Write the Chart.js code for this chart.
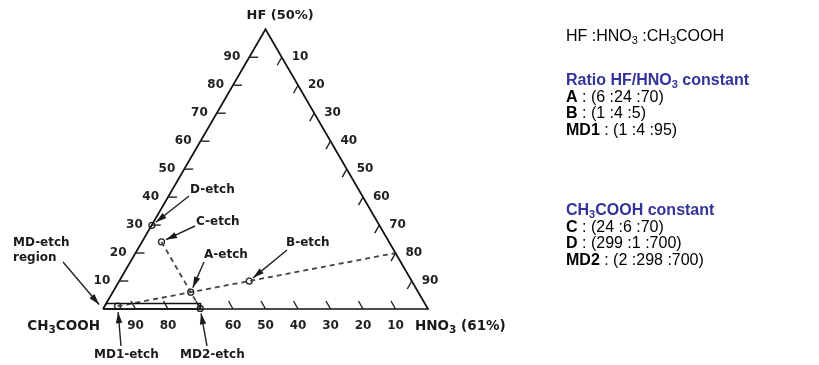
<!DOCTYPE html>
<html>
<head>
<meta charset="utf-8">
<script src="https://cdn.jsdelivr.net/npm/chart.js@4.4.1/dist/chart.umd.min.js"></script>
<style>
    body { margin: 0; background: #fff; }
    #wrap { position: relative; width: 819px; height: 365px; }
    #grafico { position: absolute; left: 0; top: 0; }
    .bloco { position: absolute; left: 566px; font-family: Arial, "Liberation Sans", sans-serif; font-size: 16px; line-height: 16.6px; color: #000; white-space: nowrap; }
    .titulo { color: #333399; font-weight: bold; }
    sub { font-size: 11px; vertical-align: -3px; line-height: 0; }
</style>
</head>
<body>
<div id="wrap">
    <canvas id="grafico" width="819" height="365"></canvas>
    <div class="bloco" style="top:28px">HF :HNO<sub>3</sub> :CH<sub>3</sub>COOH</div>
    <div class="bloco" style="top:72px" id="grupo-razao"></div>
    <div class="bloco" style="top:202px" id="grupo-acido"></div>
</div>
<script>
// dados do diagrama ternário (partes HF : HNO3 : CH3COOH)
const nomes = ['A', 'B', 'MD1', 'C', 'D', 'MD2'];
const partesHF = [6, 1, 1, 24, 299, 2];
const partesHNO3 = [24, 4, 4, 6, 1, 298];
const partesAcido = [70, 5, 95, 70, 700, 700];
const marcas = [10, 20, 30, 40, 50, 60, 70, 80, 90];
const rotulosBase = [90, 80, 60, 50, 40, 30, 20, 10];
const titulosGrupos = ['Ratio HF/HNO<sub>3</sub> constant', 'CH<sub>3</sub>COOH constant'];

function ternario(hf, hno3, acido) {
    const s = hf + hno3 + acido;
    const h = hf / s, n = hno3 / s;
    return { x: n + h / 2, y: h * Math.sqrt(3) / 2 };
}

function pontoNome(nome) {
    const i = nomes.indexOf(nome);
    return ternario(partesHF[i], partesHNO3[i], partesAcido[i]);
}

// legenda à direita
function montarGrupo(id, titulo, lista) {
    let html = `<div class="titulo">${titulo}</div>`;
    lista.forEach(nome => {
        const i = nomes.indexOf(nome);
        html += `<div><b>${nome}</b> : (${partesHF[i]} :${partesHNO3[i]} :${partesAcido[i]})</div>`;
    });
    document.getElementById(id).innerHTML = html;
}
montarGrupo('grupo-razao', titulosGrupos[0], ['A', 'B', 'MD1']);
montarGrupo('grupo-acido', titulosGrupos[1], ['C', 'D', 'MD2']);

const vL = ternario(0, 0, 1);
const vR = ternario(0, 1, 0);
const vT = ternario(1, 0, 0);

// anotações (posições em pixels)
const notas = [
    { linhas: ['D-etch'], alvo: pontoNome('D'), tx: 190, ty: 190, ax: 189, ay: 196, folga: 5 },
    { linhas: ['C-etch'], alvo: pontoNome('C'), tx: 196, ty: 222, ax: 195, ay: 226, folga: 5 },
    { linhas: ['A-etch'], alvo: pontoNome('A'), tx: 204, ty: 255, ax: 204, ay: 262, folga: 5 },
    { linhas: ['B-etch'], alvo: pontoNome('B'), tx: 286, ty: 243, ax: 287, ay: 250, folga: 5 },
    { linhas: ['MD-etch', 'region'], alvo: vL, tx: 13, ty: 243, ax: 63, ay: 262, folga: 6 },
    { linhas: ['MD1-etch'], alvo: pontoNome('MD1'), tx: 94, ty: 355, ax: 121, ay: 346, folga: 6 },
    { linhas: ['MD2-etch'], alvo: pontoNome('MD2'), tx: 180, ty: 355, ax: 207, ay: 346, folga: 5 }
];

function linha(ctx, x1, y1, x2, y2) {
    ctx.beginPath();
    ctx.moveTo(x1, y1);
    ctx.lineTo(x2, y2);
    ctx.stroke();
}

function seta(ctx, x1, y1, x2, y2, folga) {
    const dx = x2 - x1, dy = y2 - y1;
    const len = Math.hypot(dx, dy);
    const ux = dx / len, uy = dy / len;
    const px = x2 - ux * folga, py = y2 - uy * folga;
    linha(ctx, x1, y1, px, py);
    const bx = px - ux * 11, by = py - uy * 11;
    ctx.beginPath();
    ctx.moveTo(px, py);
    ctx.lineTo(bx - uy * 3.2, by + ux * 3.2);
    ctx.lineTo(bx + uy * 3.2, by - ux * 3.2);
    ctx.closePath();
    ctx.fill();
}

// texto com índices (ex.: CH3COOH)
function textoSub(ctx, partes, x, y, alinhar, tam) {
    const fonteN = `bold ${tam}px "DejaVu Sans"`;
    const fonteS = `bold ${tam - 3}px "DejaVu Sans"`;
    let largura = 0;
    partes.forEach(p => {
        ctx.font = p[1] ? fonteS : fonteN;
        largura += ctx.measureText(p[0]).width;
    });
    let cx = alinhar === 'right' ? x - largura : x;
    ctx.textAlign = 'left';
    partes.forEach(p => {
        ctx.font = p[1] ? fonteS : fonteN;
        ctx.fillText(p[0], cx, p[1] ? y + 4 : y);
        cx += ctx.measureText(p[0]).width;
    });
}

const eixosTernarios = {
    id: 'eixosTernarios',
    afterDatasetsDraw(chart) {
        const ctx = chart.ctx;
        const sx = chart.scales.x, sy = chart.scales.y;
        const pix = p => ({ x: sx.getPixelForValue(p.x), y: sy.getPixelForValue(p.y) });
        ctx.save();
        ctx.strokeStyle = '#222';
        ctx.fillStyle = '#222';
        ctx.lineWidth = 1.4;
        ctx.textBaseline = 'middle';
        ctx.font = 'bold 12px "DejaVu Sans"';

        marcas.forEach(m => {
            const f = m / 100;
            // HF (lado esquerdo)
            let p = pix(ternario(f, 0, 1 - f));
            linha(ctx, p.x, p.y, p.x + 9, p.y);
            ctx.textAlign = 'right';
            ctx.fillText(String(m), p.x - 9, p.y);
            // HNO3 (lado direito)
            p = pix(ternario(1 - f, f, 0));
            linha(ctx, p.x, p.y, p.x - 4.5, p.y + 8);
            ctx.textAlign = 'left';
            ctx.fillText(String(m), p.x + 10, p.y);
            // CH3COOH (base)
            p = pix(ternario(0, 1 - f, f));
            linha(ctx, p.x, p.y, p.x - 4.5, p.y - 8);
            if (rotulosBase.includes(m)) {
                ctx.textAlign = 'center';
                ctx.fillText(String(m), p.x, p.y + 17);
            }
        });

        // vértices
        const t = pix(vT), l = pix(vL), r = pix(vR);
        ctx.fillStyle = '#1a1a1a';
        textoSub(ctx, [['HF (50%)', false]], t.x - 19, t.y - 14, 'left', 13);
        textoSub(ctx, [['CH', false], ['3', true], ['COOH', false]], l.x - 3, l.y + 17, 'right', 13.5);
        textoSub(ctx, [['HNO', false], ['3', true], [' (61%)', false]], r.x - 13, r.y + 17, 'left', 13.5);

        // anotações com setas
        ctx.lineWidth = 1.4;
        notas.forEach(n => {
            ctx.font = 'bold 12px "DejaVu Sans"';
            ctx.textAlign = 'left';
            n.linhas.forEach((txt, k) => ctx.fillText(txt, n.tx, n.ty + k * 15));
            const a = pix(n.alvo);
            seta(ctx, n.ax, n.ay, a.x, a.y, n.folga);
        });
        ctx.restore();
    }
};

const escala = 323;
const ctx = document.getElementById('grafico').getContext('2d');
new Chart(ctx, {
    type: 'scatter',
    data: {
        datasets: [
            {
                data: [vL, vR, vT, vL],
                showLine: true, borderColor: '#111', borderWidth: 1.7, pointRadius: 0
            },
            {
                data: [vL, ternario(0, 30, 70), ternario(2, 29, 69), ternario(2, 0, 98), vL],
                showLine: true, borderColor: '#111', borderWidth: 1.5, pointRadius: 0
            },
            {
                data: [pontoNome('C'), pontoNome('A'), pontoNome('MD2')],
                showLine: true, borderColor: '#444', borderWidth: 1.8, borderDash: [5, 4], pointRadius: 0
            },
            {
                data: [pontoNome('MD1'), ternario(1, 4, 0)],
                showLine: true, borderColor: '#444', borderWidth: 1.8, borderDash: [5, 4], pointRadius: 0
            },
            {
                data: nomes.map(pontoNome),
                pointRadius: 3, pointBorderWidth: 1.3,
                pointBackgroundColor: '#fff', pointBorderColor: '#222'
            }
        ]
    },
    options: {
        responsive: false,
        animation: false,
        events: [],
        layout: { padding: 0, autoPadding: false },
        plugins: { legend: { display: false }, tooltip: { enabled: false } },
        scales: {
            x: { type: 'linear', display: false, min: -103 / 325, max: (819 - 103) / 325 },
            y: { type: 'linear', display: false, min: -56 / escala, max: -56 / escala + 365 / escala }
        }
    },
    plugins: [eixosTernarios]
});
</script>
</body>
</html>
